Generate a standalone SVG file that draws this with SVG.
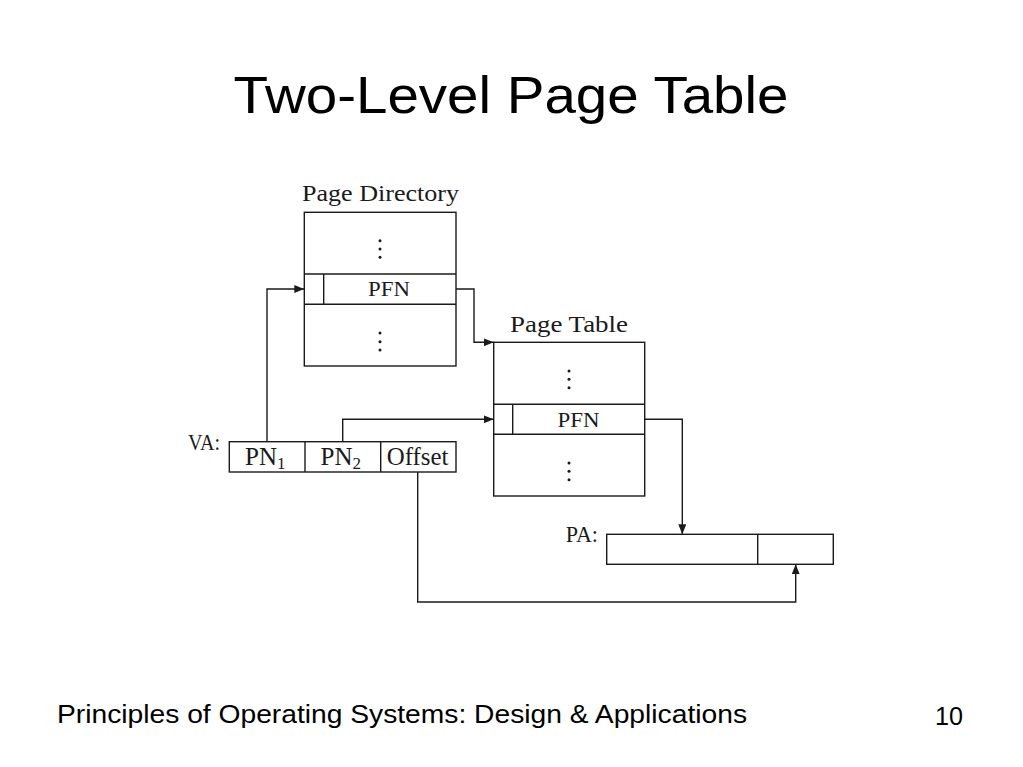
<svg xmlns="http://www.w3.org/2000/svg" width="1023" height="767" viewBox="0 0 1023 767">
<defs>
<style>
.box{fill:none;stroke:#1a1a1a;stroke-width:1.4}
.ln{fill:none;stroke:#1a1a1a;stroke-width:1.4}
.cm{font-family:"Liberation Serif","Times New Roman",serif;fill:#1a1a1a}
.ss{font-family:"Liberation Sans",Arial,sans-serif;fill:#000}
.dot{fill:#1a1a1a}
</style>
<marker id="ah" viewBox="0 0 10 8" refX="10" refY="4" markerWidth="10" markerHeight="8" markerUnits="userSpaceOnUse" orient="auto">
<path d="M0,0 L10,4 L0,8 Z" fill="#1a1a1a"/>
</marker>
</defs>
<rect width="1023" height="767" fill="#fff"/>
<text class="ss" x="511" y="113" font-size="52" text-anchor="middle" textLength="555" lengthAdjust="spacingAndGlyphs">Two-Level Page Table</text>

<g id="page-directory">
<text class="cm" x="380.5" y="201" font-size="24" text-anchor="middle" textLength="157" lengthAdjust="spacingAndGlyphs">Page Directory</text>
<rect class="box" x="304.3" y="212.3" width="151.7" height="153.7"/>
<line class="box" x1="304.3" y1="274" x2="456" y2="274"/>
<line class="box" x1="304.3" y1="304.3" x2="456" y2="304.3"/>
<line class="box" x1="323.7" y1="274" x2="323.7" y2="304.3"/>
<text class="cm" x="389" y="296" font-size="21" text-anchor="middle" textLength="42" lengthAdjust="spacingAndGlyphs">PFN</text>
<circle class="dot" cx="380" cy="240.7" r="1.5"/><circle class="dot" cx="380" cy="249" r="1.5"/><circle class="dot" cx="380" cy="257.3" r="1.5"/>
<circle class="dot" cx="380" cy="333" r="1.5"/><circle class="dot" cx="380" cy="341.7" r="1.5"/><circle class="dot" cx="380" cy="350" r="1.5"/>
</g>

<g id="page-table">
<text class="cm" x="569" y="331.7" font-size="24" text-anchor="middle" textLength="118" lengthAdjust="spacingAndGlyphs">Page Table</text>
<rect class="box" x="493.7" y="342.3" width="151" height="153.7"/>
<line class="box" x1="493.7" y1="404.3" x2="644.7" y2="404.3"/>
<line class="box" x1="493.7" y1="434.3" x2="644.7" y2="434.3"/>
<line class="box" x1="512.7" y1="404.3" x2="512.7" y2="434.3"/>
<text class="cm" x="578.5" y="426.5" font-size="21" text-anchor="middle" textLength="42" lengthAdjust="spacingAndGlyphs">PFN</text>
<circle class="dot" cx="569" cy="371" r="1.5"/><circle class="dot" cx="569" cy="379.3" r="1.5"/><circle class="dot" cx="569" cy="387.7" r="1.5"/>
<circle class="dot" cx="569" cy="463" r="1.5"/><circle class="dot" cx="569" cy="471.3" r="1.5"/><circle class="dot" cx="569" cy="479.7" r="1.5"/>
</g>

<g id="va">
<text class="cm" x="188" y="450" font-size="24" textLength="32" lengthAdjust="spacingAndGlyphs">VA:</text>
<rect class="box" x="229.3" y="441.7" width="226.7" height="30.3"/>
<line class="box" x1="305" y1="441.7" x2="305" y2="472"/>
<line class="box" x1="380.7" y1="441.7" x2="380.7" y2="472"/>
<text class="cm" x="245" y="465" font-size="25">PN<tspan font-size="17" dy="4">1</tspan></text>
<text class="cm" x="320.5" y="465" font-size="25">PN<tspan font-size="17" dy="4">2</tspan></text>
<text class="cm" x="386.7" y="465" font-size="25" textLength="61.7" lengthAdjust="spacingAndGlyphs">Offset</text>
</g>

<g id="pa">
<text class="cm" x="565.7" y="541.7" font-size="24" textLength="32.3" lengthAdjust="spacingAndGlyphs">PA:</text>
<rect class="box" x="606.7" y="534.3" width="226.6" height="30"/>
<line class="box" x1="757.7" y1="534.3" x2="757.7" y2="564.3"/>
</g>

<g id="connectors">
<polyline class="ln" points="267,441.7 267,289 304.3,289" marker-end="url(#ah)"/>
<polyline class="ln" points="456,289 474,289 474,342.3 493.7,342.3" marker-end="url(#ah)"/>
<polyline class="ln" points="342.7,441.7 342.7,419.3 493.7,419.3" marker-end="url(#ah)"/>
<polyline class="ln" points="644.7,419.3 682.3,419.3 682.3,534.3" marker-end="url(#ah)"/>
<polyline class="ln" points="417.7,472 417.7,602 795.7,602 795.7,564.3" marker-end="url(#ah)"/>
</g>

<text class="ss" x="57" y="723" font-size="25" textLength="690" lengthAdjust="spacingAndGlyphs">Principles of Operating Systems: Design &amp; Applications</text>
<text class="ss" x="935" y="725" font-size="25" textLength="28" lengthAdjust="spacingAndGlyphs">10</text>
</svg>
